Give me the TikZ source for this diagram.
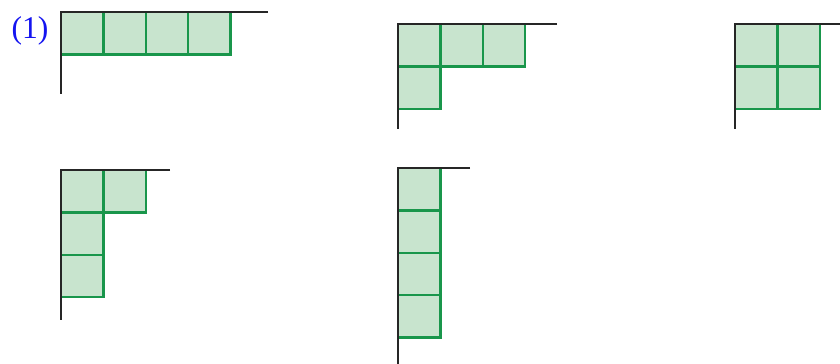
\documentclass[tikz,border=0pt]{standalone}
\usepackage{fontspec}
\setmainfont{Liberation Serif}
\usepackage{xcolor}
\usetikzlibrary{positioning}

\definecolor{boxfill}{RGB}{200,228,206}
\definecolor{boxline}{RGB}{25,150,75}
\definecolor{lblblue}{RGB}{20,20,240}

\begin{document}
\begin{tikzpicture}[
x=0.03cm, y=-0.03cm,
cell/.style={draw=boxline, fill=boxfill, line width=1.9pt},
axis/.style={draw=black!85, line width=1.8pt},
every node/.style={align=center}
]
\useasboundingbox (0,0) rectangle (840,364);

\def\sz{42.4}

% (4)
\foreach \c/\r in {0/0,1/0,2/0,3/0}
  \draw[cell] (61+\c*\sz,12+\r*\sz) rectangle ++(\sz,\sz);
\draw[axis] (268,12) -- (61,12) -- (61,94);

% (3,1)
\foreach \c/\r in {0/0,1/0,2/0,0/1}
  \draw[cell] (398+\c*\sz,24+\r*\sz) rectangle ++(\sz,\sz);
\draw[axis] (557,24) -- (398,24) -- (398,129);

% (2,2)
\foreach \c/\r in {0/0,1/0,0/1,1/1}
  \draw[cell] (735+\c*\sz,24+\r*\sz) rectangle ++(\sz,\sz);
\draw[axis] (840,24) -- (735,24) -- (735,129);

% (2,1,1)
\foreach \c/\r in {0/0,1/0,0/1,0/2}
  \draw[cell] (61+\c*\sz,170+\r*\sz) rectangle ++(\sz,\sz);
\draw[axis] (170,170) -- (61,170) -- (61,320);

% (1,1,1,1)
\foreach \c/\r in {0/0,0/1,0/2,0/3}
  \draw[cell] (398+\c*\sz,168+\r*\sz) rectangle ++(\sz,\sz);
\draw[axis] (470,168) -- (398,168) -- (398,364);

\node (lbl) [text=lblblue, font=\fontsize{27}{32}\selectfont, inner sep=0pt] at (30,31) {(1)};

\end{tikzpicture}
\end{document}
